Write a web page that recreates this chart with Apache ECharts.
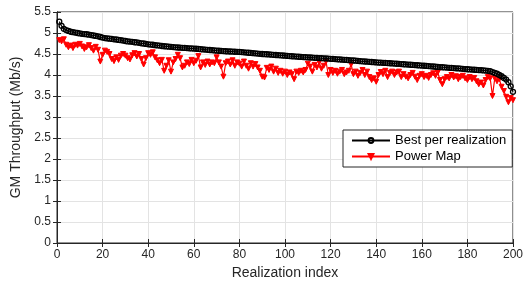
<!DOCTYPE html>
<html><head><meta charset="utf-8">
<script src="https://cdn.jsdelivr.net/npm/echarts@6/dist/echarts.min.js"></script>
<style>html,body{margin:0;padding:0;background:#fff}#c{width:526px;height:285px}</style>
</head><body><div id="c"></div>
<script>
const seriesNames = ["Best per realization", "Power Map"];
const xTicks = [0,20,40,60,80,100,120,140,160,180,200];
const yTicks = [0,0.5,1,1.5,2,2.5,3,3.5,4,4.5,5,5.5];
const bestValues = [
5.27,5.17,5.10,5.07,5.05,5.03,5.02,5.01,5.00,4.99,
4.98,4.975,4.97,4.96,4.95,4.94,4.93,4.92,4.905,4.89,
4.88,4.87,4.865,4.86,4.85,4.845,4.835,4.83,4.82,4.81,
4.80,4.795,4.79,4.78,4.775,4.765,4.755,4.75,4.74,4.73,
4.725,4.72,4.71,4.705,4.70,4.69,4.685,4.68,4.675,4.67,
4.665,4.66,4.655,4.65,4.648,4.645,4.64,4.635,4.632,4.63,
4.625,4.62,4.615,4.61,4.605,4.60,4.595,4.59,4.585,4.58,
4.577,4.574,4.57,4.566,4.562,4.56,4.557,4.554,4.552,4.55,
4.545,4.54,4.535,4.53,4.525,4.52,4.515,4.51,4.505,4.50,
4.497,4.494,4.49,4.485,4.48,4.476,4.472,4.468,4.464,4.46,
4.455,4.45,4.446,4.442,4.438,4.434,4.43,4.427,4.424,4.42,
4.417,4.414,4.41,4.407,4.404,4.40,4.397,4.394,4.39,4.386,
4.382,4.378,4.374,4.37,4.366,4.362,4.358,4.354,4.35,4.345,
4.34,4.335,4.33,4.326,4.322,4.318,4.314,4.31,4.305,4.30,
4.297,4.294,4.29,4.287,4.284,4.28,4.276,4.272,4.268,4.265,
4.26,4.256,4.252,4.248,4.244,4.24,4.236,4.232,4.228,4.224,
4.22,4.216,4.212,4.207,4.202,4.197,4.192,4.188,4.184,4.18,
4.176,4.172,4.168,4.164,4.16,4.156,4.152,4.147,4.142,4.137,
4.133,4.129,4.125,4.122,4.118,4.114,4.11,4.105,4.10,4.09,
4.07,4.05,4.03,4.00,3.97,3.93,3.89,3.83,3.73,3.60];
const powerMapValues = [
4.83,4.80,4.85,4.72,4.66,4.70,4.64,4.72,4.70,4.74,
4.68,4.62,4.66,4.71,4.64,4.58,4.67,4.60,4.32,4.48,
4.58,4.55,4.50,4.38,4.33,4.42,4.36,4.46,4.50,4.46,
4.40,4.37,4.47,4.52,4.44,4.50,4.38,4.25,4.40,4.52,
4.48,4.54,4.42,4.35,4.28,4.36,4.10,4.22,4.35,4.08,
4.30,4.38,4.48,4.40,4.18,4.22,4.30,4.26,4.36,4.28,
4.34,4.45,4.18,4.30,4.24,4.32,4.25,4.30,4.28,4.42,
4.30,4.20,3.96,4.28,4.32,4.25,4.35,4.22,4.30,4.27,
4.20,4.32,4.22,4.15,4.28,4.20,4.26,4.18,4.10,3.96,
3.94,4.17,4.12,4.20,4.08,4.15,4.05,4.10,4.03,4.08,
4.00,4.06,4.02,3.90,4.08,4.05,4.10,4.06,4.12,4.27,
4.20,4.08,4.24,4.18,4.30,4.15,4.22,4.32,4.00,4.12,
4.05,4.10,4.03,4.08,4.12,4.02,4.06,4.10,4.25,4.02,
4.08,3.98,4.05,4.12,4.00,4.08,3.95,3.88,3.92,3.84,
4.00,4.07,4.02,4.10,3.95,4.05,4.08,4.00,4.06,4.08,
3.95,4.02,3.96,3.92,4.00,4.05,3.96,3.88,3.98,4.02,
3.95,3.98,3.93,4.00,4.04,3.98,4.06,3.88,3.78,3.90,
3.95,3.92,4.00,3.94,3.97,3.90,3.95,3.98,3.92,3.88,
3.95,3.90,3.93,3.85,3.78,3.82,3.75,3.88,3.95,3.92,
3.50,3.92,3.85,3.90,3.72,3.62,3.48,3.35,3.45,3.40];

const font = 'Liberation Sans, Arial, Helvetica, sans-serif';
const ax = '#262626';
const chart = echarts.init(document.getElementById('c'), null, {renderer:'canvas'});
const toPairs = arr => arr.map((v,i)=>[i+1, v]);
const xBase = {min: xTicks[0], max: xTicks[xTicks.length-1], interval: xTicks[1]-xTicks[0], type:'value'};
const yBase = {min: yTicks[0], max: yTicks[yTicks.length-1], interval: yTicks[1]-yTicks[0], type:'value'};
chart.setOption({
  animation:false,
  backgroundColor:'#fff',
  grid:{left:57, right:13, top:12, bottom:42, show:true, borderColor:ax, borderWidth:1, backgroundColor:'transparent'},
  xAxis:[
    Object.assign({}, xBase, {position:'bottom', name:'Realization index', nameLocation:'middle', nameGap:22,
      nameTextStyle:{fontFamily:font, fontSize:14, color:ax},
      axisLine:{show:true, lineStyle:{color:ax}}, axisTick:{show:true, inside:true, length:4, lineStyle:{color:ax}},
      axisLabel:{fontFamily:font, fontSize:12, color:ax, margin:6},
      splitLine:{show:true, lineStyle:{color:'#e3e3e3', width:1}}}),
    Object.assign({}, xBase, {position:'top', axisLine:{show:true, lineStyle:{color:ax}}, axisTick:{show:true, inside:true, length:4, lineStyle:{color:ax}}, axisLabel:{show:false}, splitLine:{show:false}})
  ],
  yAxis:[
    Object.assign({}, yBase, {position:'left', name:'GM Throughput (Mb/s)', nameLocation:'middle', nameGap:34,
      nameTextStyle:{fontFamily:font, fontSize:14, color:ax},
      axisLine:{show:true, lineStyle:{color:ax}}, axisTick:{show:true, inside:true, length:4, lineStyle:{color:ax}},
      axisLabel:{fontFamily:font, fontSize:12, color:ax, margin:6},
      splitLine:{show:true, lineStyle:{color:'#e3e3e3', width:1}}}),
    Object.assign({}, yBase, {position:'right', axisLine:{show:true, lineStyle:{color:ax}}, axisTick:{show:true, inside:true, length:4, lineStyle:{color:ax}}, axisLabel:{show:false}, splitLine:{show:false}})
  ],
  legend:{
    show:true, orient:'vertical', left:343, top:130,
    backgroundColor:'#fff', borderColor:ax, borderWidth:1, borderRadius:0,
    padding:[4,6,4,8], itemGap:3, itemWidth:38, itemHeight:6,
    textStyle:{fontFamily:font, fontSize:13, color:'#000'},
    data:[{name:seriesNames[0]},{name:seriesNames[1]}]
  },
  series:[
    {name:seriesNames[1], type:'line', data:toPairs(powerMapValues), xAxisIndex:0, yAxisIndex:0,
      symbol:'triangle', symbolRotate:180, symbolSize:5, showAllSymbol:true,
      lineStyle:{color:'#ff0000', width:1.2}, itemStyle:{color:'#ff0000', borderColor:'#ff0000', borderWidth:1}, z:2},
    {name:seriesNames[0], type:'line', data:toPairs(bestValues), xAxisIndex:0, yAxisIndex:0,
      symbol:'circle', symbolSize:5, showAllSymbol:true,
      lineStyle:{color:'#000', width:1.2}, itemStyle:{color:'rgba(0,0,0,0)', borderColor:'#000', borderWidth:1.3}, z:3}
  ]
});
</script></body></html>
